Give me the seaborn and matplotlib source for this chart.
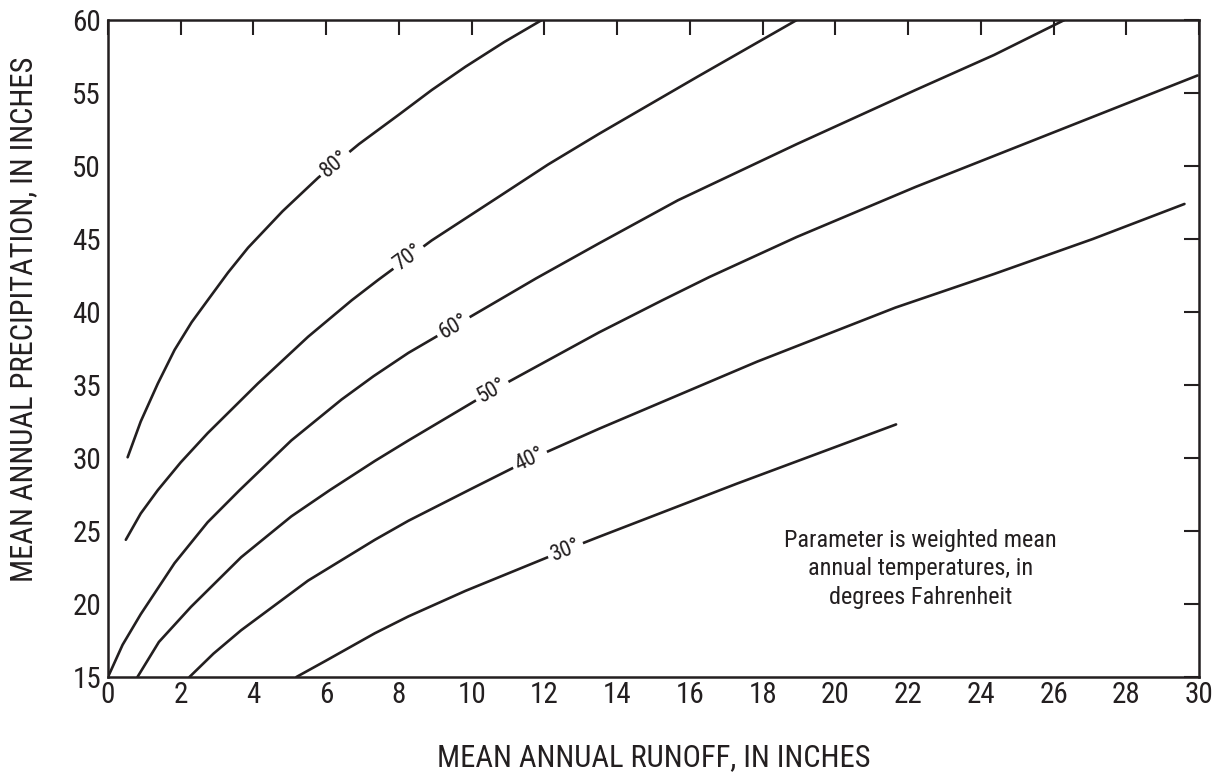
import numpy as np
import pandas as pd
import matplotlib
matplotlib.use("Agg")
import matplotlib.pyplot as plt
import seaborn as sns
from matplotlib import font_manager

# curve values (runoff x, precipitation y), one list per temperature
temps = [80, 70, 60, 50, 40, 30]
runoff = {
    80: [0.54, 0.9, 1.37, 1.83, 2.3, 2.74, 3.3, 3.85, 4.8, 5.78, 6.9, 7.99, 8.9, 9.83, 10.9, 11.93],
    70: [0.49, 0.9, 1.37, 2.0, 2.74, 4.12, 5.5, 6.7, 7.43, 8.9, 10.75, 12.1, 13.5, 16.2, 18.94],
    60: [0.0, 0.4, 0.9, 1.83, 2.74, 3.62, 5.04, 6.42, 7.3, 8.26, 10.74, 11.77, 13.5, 15.67, 18.94, 22.2, 24.36, 26.3],
    50: [0.81, 1.4, 2.28, 3.66, 5.04, 6.1, 7.34, 8.26, 10.56, 13.5, 15.24, 16.54, 18.94, 22.2, 26.1, 29.96],
    40: [2.24, 2.9, 3.66, 5.5, 7.34, 8.26, 10.0, 11.6, 13.5, 17.85, 21.65, 24.36, 27.08, 29.6],
    30: [5.18, 5.98, 7.34, 8.26, 9.83, 12.58, 13.5, 17.3, 21.67],
}
precip = {
    80: [30.05, 32.5, 35.1, 37.4, 39.3, 40.8, 42.7, 44.4, 46.9, 49.2, 51.5, 53.5, 55.2, 56.8, 58.5, 60.0],
    70: [24.4, 26.2, 27.8, 29.7, 31.7, 35.1, 38.3, 40.8, 42.2, 44.9, 47.9, 50.1, 52.2, 56.1, 60.0],
    60: [15.0, 17.2, 19.3, 22.8, 25.6, 27.8, 31.2, 34.0, 35.6, 37.2, 40.8, 42.3, 44.7, 47.65, 51.5, 55.2, 57.6, 60.0],
    50: [15.0, 17.4, 19.8, 23.2, 26.0, 27.8, 29.8, 31.2, 34.6, 38.6, 40.8, 42.4, 45.14, 48.56, 52.4, 56.2],
    40: [15.0, 16.6, 18.2, 21.6, 24.4, 25.7, 27.9, 29.9, 32.0, 36.6, 40.3, 42.6, 45.0, 47.4],
    30: [15.0, 16.1, 18.0, 19.15, 20.9, 23.7, 24.6, 28.25, 32.3],
}
# where the inline temperature labels sit (runoff value)
label_x = {80: 6.24, 70: 8.26, 60: 9.5, 50: 10.56, 40: 11.6, 30: 12.58}

x_ticks = list(range(0, 31, 2))
y_ticks = list(range(15, 61, 5))

INK = "#231f20"

sns.set_theme(style="white")
available = {f.name for f in font_manager.fontManager.ttflist}
family = "DejaVu Sans"
for cand in ["Roboto Condensed", "Liberation Sans Narrow", "Open Sans Condensed", "Liberation Sans"]:
    if cand in available:
        family = cand
        break
plt.rcParams["font.family"] = [family, "DejaVu Sans"]

rows = []
for t in temps:
    for xv, yv in zip(runoff[t], precip[t]):
        rows.append({"temp": t, "runoff": xv, "precip": yv})
df = pd.DataFrame(rows)

fig = plt.figure(figsize=(12.18, 7.76), dpi=100)
ax = fig.add_axes([108 / 1218, 1 - 677 / 776, (1199 - 108) / 1218, (677 - 20) / 776])

sns.lineplot(data=df, x="runoff", y="precip", units="temp", estimator=None,
             sort=False, color=INK, lw=1.9, ax=ax, legend=False)

ax.set_xlim(0, 30)
ax.set_ylim(15, 60)
ax.set_xticks(x_ticks)
ax.set_yticks(y_ticks)
ax.set_xlabel("")
ax.set_ylabel("")
ax.tick_params(direction="in", length=11, width=1.5, colors=INK, labelsize=21,
               top=True, right=True, labeltop=False, labelright=False)
ax.tick_params(axis="x", pad=3)
ax.tick_params(axis="y", pad=5)
for s in ax.spines.values():
    s.set_visible(True)
    s.set_color(INK)
    s.set_linewidth(1.8)

# inline labels, rotated along the curve, with a white gap
for t in temps:
    xs = np.array(runoff[t])
    ys = np.array(precip[t])
    lx = label_x[t]
    ly = np.interp(lx, xs, ys)
    p0 = ax.transData.transform((lx - 0.4, np.interp(lx - 0.4, xs, ys)))
    p1 = ax.transData.transform((lx + 0.4, np.interp(lx + 0.4, xs, ys)))
    ang = np.degrees(np.arctan2(p1[1] - p0[1], p1[0] - p0[0]))
    ax.text(lx, ly, f"{t}\u00b0", rotation=ang, rotation_mode="anchor",
            ha="center", va="center", fontsize=16, color=INK,
            bbox=dict(fc="white", ec="none", pad=2.5), zorder=5)

ax.text(22.35, 22.4, "Parameter is weighted mean\nannual temperatures, in\ndegrees Fahrenheit",
        ha="center", va="center", fontsize=17.5, color=INK, linespacing=1.33)

fig.text(654 / 1218, 1 - 758 / 776, "MEAN ANNUAL RUNOFF, IN INCHES",
         ha="center", va="center", fontsize=22, color=INK)
fig.text(24 / 1218, 1 - 319 / 776, "MEAN ANNUAL PRECIPITATION, IN INCHES",
         ha="center", va="center", rotation=90, fontsize=22, color=INK)

fig.savefig("out.png", dpi=100, facecolor="white")
